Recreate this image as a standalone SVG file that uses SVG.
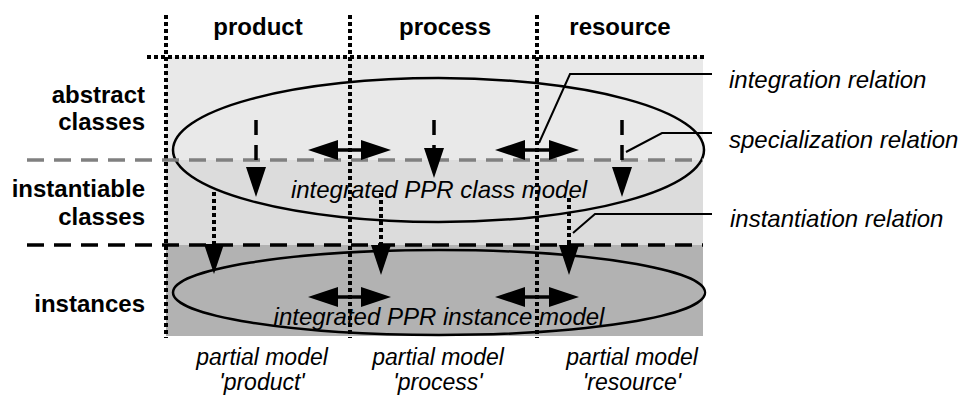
<svg xmlns="http://www.w3.org/2000/svg" width="963" height="398" viewBox="0 0 963 398">
<style>
.b{font-family:"Liberation Sans",Arial,sans-serif;font-weight:bold;font-size:24px;fill:#000}
.i{font-family:"Liberation Sans",Arial,sans-serif;font-style:italic;font-size:24px;fill:#000}
.p{font-family:"Liberation Sans",Arial,sans-serif;font-style:italic;font-size:23px;fill:#000}
.dot{stroke:#000;stroke-width:4;stroke-dasharray:4 3;fill:none}
.ell{fill:none;stroke:#000;stroke-width:2.5}
.lead{fill:none;stroke:#000;stroke-width:2}
.spec{stroke:#000;stroke-width:3.5;stroke-dasharray:15 10;fill:none;marker-end:url(#ah)}
.inst{stroke:#000;stroke-width:4;stroke-dasharray:4 3;fill:none;marker-end:url(#ah)}
.dbl{stroke:#000;stroke-width:3.5;fill:none;marker-start:url(#ah2);marker-end:url(#ah2)}
</style>
<defs>
<marker id="ah" markerUnits="userSpaceOnUse" markerWidth="30" markerHeight="20" refX="0" refY="10" orient="auto" overflow="visible">
<path d="M0,0 L30,10 L0,20 z" fill="#000"/>
</marker>
<marker id="ah2" markerUnits="userSpaceOnUse" markerWidth="30" markerHeight="20" refX="0" refY="10" orient="auto-start-reverse" overflow="visible">
<path d="M0,0 L30,10 L0,20 z" fill="#000"/>
</marker>
</defs>
<rect width="963" height="398" fill="#fff"/>
<g id="bands">
<rect x="166" y="57" width="537" height="103" fill="#e9e9e9"/>
<rect x="166" y="160" width="537" height="85" fill="#dcdcdc"/>
<rect x="166" y="245" width="537" height="91" fill="#b2b2b2"/>
</g>
<g id="class-model">
<ellipse class="ell" cx="438.5" cy="150" rx="265.5" ry="72"/>
<text class="i" x="439" y="198" text-anchor="middle">integrated PPR class model</text>
</g>
<g id="instance-model">
<ellipse class="ell" cx="439" cy="292.5" rx="266" ry="42.5"/>
<text class="i" x="439" y="325" text-anchor="middle">integrated PPR instance model</text>
</g>
<g id="grid">
<line x1="147" y1="57" x2="705" y2="57" class="dot"/>
<line x1="166" y1="15" x2="166" y2="338" class="dot"/>
<line x1="350" y1="15" x2="350" y2="338" class="dot"/>
<line x1="537" y1="15" x2="537" y2="338" class="dot"/>
<line x1="27" y1="160" x2="703" y2="160" stroke="#808080" stroke-width="3.5" stroke-dasharray="17 10"/>
<line x1="27" y1="245" x2="703" y2="245" stroke="#000" stroke-width="3.5" stroke-dasharray="17 10"/>
</g>
<g id="col-product"><text class="b" x="258" y="35" text-anchor="middle">product</text></g>
<g id="col-process"><text class="b" x="445" y="35" text-anchor="middle">process</text></g>
<g id="col-resource"><text class="b" x="620" y="35" text-anchor="middle">resource</text></g>
<g id="row-abstract"><text class="b" x="145" y="103" text-anchor="end">abstract</text><text class="b" x="145" y="130" text-anchor="end">classes</text></g>
<g id="row-instantiable"><text class="b" x="145" y="197" text-anchor="end">instantiable</text><text class="b" x="145" y="225" text-anchor="end">classes</text></g>
<g id="row-instances"><text class="b" x="145" y="312" text-anchor="end">instances</text></g>
<g id="pm-product"><text class="p" x="262" y="365" text-anchor="middle">partial model</text><text class="p" x="262" y="390" text-anchor="middle">'product'</text></g>
<g id="pm-process"><text class="p" x="438" y="365" text-anchor="middle">partial model</text><text class="p" x="438" y="390" text-anchor="middle">'process'</text></g>
<g id="pm-resource"><text class="p" x="632" y="365" text-anchor="middle">partial model</text><text class="p" x="632" y="390" text-anchor="middle">'resource'</text></g>
<g id="legend-integration"><text class="i" x="729" y="88">integration relation</text></g>
<g id="legend-specialization"><text class="i" x="729" y="148">specialization relation</text></g>
<g id="legend-instantiation"><text class="i" x="730" y="227">instantiation relation</text></g>
<g id="connectors">
<line class="spec" x1="256" y1="120" x2="256" y2="167"/>
<line class="spec" x1="434" y1="120" x2="434" y2="148"/>
<line class="spec" x1="622" y1="120" x2="622" y2="167"/>
<line class="dbl" x1="338" y1="150" x2="361" y2="150"/>
<line class="dbl" x1="525" y1="150" x2="549" y2="150"/>
<line class="dbl" x1="338" y1="297" x2="361" y2="297"/>
<line class="dbl" x1="525" y1="297" x2="549" y2="297"/>
<line class="inst" x1="214" y1="192" x2="214" y2="244"/>
<line class="inst" x1="381" y1="193" x2="381" y2="245"/>
<line class="inst" x1="569" y1="198" x2="569" y2="245"/>
<polyline class="lead" points="539,143 570,74 712,74"/>
<polyline class="lead" points="626,152 662,133 712,133"/>
<polyline class="lead" points="573,233 595,214 712,214"/>
</g>
</svg>
